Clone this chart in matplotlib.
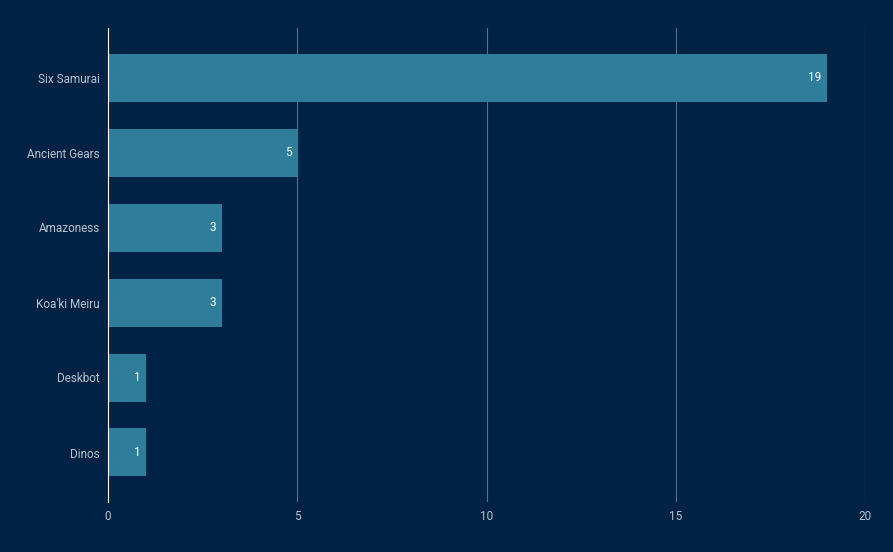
import matplotlib.pyplot as plt

categories = ["Six Samurai", "Ancient Gears", "Amazoness", "Koa'ki Meiru", "Deskbot", "Dinos"]
counts = [19, 5, 3, 3, 1, 1]
x_ticks = [0, 5, 10, 15, 20]

bg = "#002244"
bar_color = "#2e7d9b"
text_color = "#b8c2cc"

plt.rcParams["font.family"] = "Roboto"

fig = plt.figure(figsize=(8.93, 5.52), dpi=100, facecolor=bg)
ax = fig.add_axes([108 / 893, 50 / 552, 757 / 893, 474 / 552], facecolor=bg)

y = list(range(len(categories)))
ax.barh(y, counts, height=0.64, color=bar_color, zorder=2)
for yi, v in zip(y, counts):
    ax.text(v - 0.15, yi, str(v), ha="right", va="center", color="white", fontsize=8.5, zorder=3)

ax.set_xlim(0, 20)
ax.set_ylim(len(categories) - 0.34, -0.66)
ax.set_yticks(y)
ax.set_yticklabels(categories)
ax.set_xticks(x_ticks)
ax.tick_params(colors=text_color, labelsize=8.5, length=0, pad=6)
ax.grid(axis="x", color="#5a7088", linewidth=0.8, zorder=1)
for s in ["top", "right", "bottom"]:
    ax.spines[s].set_visible(False)
ax.spines["left"].set_color("white")
ax.spines["left"].set_zorder(4)

fig.savefig("out.png", facecolor=bg)
